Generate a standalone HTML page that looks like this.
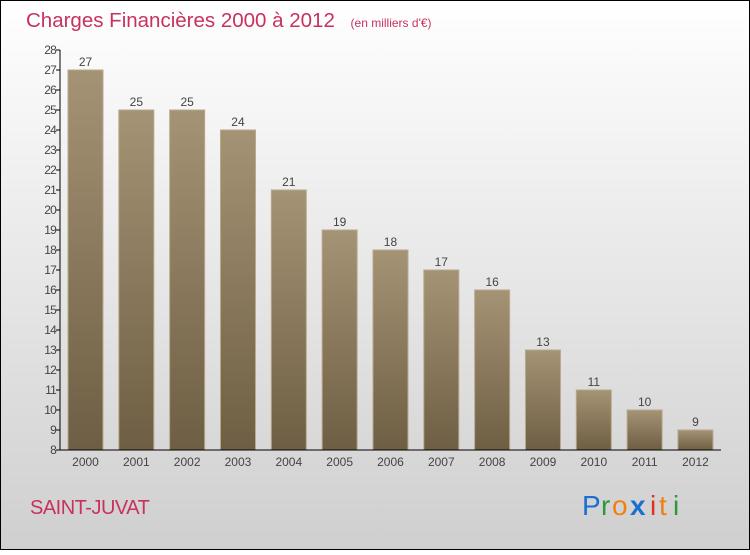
<!DOCTYPE html>
<html><head><meta charset="utf-8"><style>
html,body{margin:0;padding:0}
body{width:750px;height:550px;overflow:hidden;font-family:"Liberation Sans",sans-serif}
</style></head><body>
<svg id="chart" width="750" height="550" xmlns="http://www.w3.org/2000/svg">
<defs>
<linearGradient id="bg" x1="0" y1="0" x2="0" y2="1"><stop offset="0" stop-color="#ffffff"/><stop offset="1" stop-color="#cfcfcf"/></linearGradient>
<linearGradient id="bar" x1="0" y1="0" x2="0" y2="1"><stop offset="0" stop-color="#a59375"/><stop offset="1" stop-color="#6e5e43"/></linearGradient>
</defs>
<rect x="0.5" y="0.5" width="749" height="549" fill="url(#bg)" stroke="#000"/>
<text x="26" y="27" font-size="20.5" fill="#c8325e">Charges Financières 2000 à 2012 <tspan font-size="12" dx="10">(en milliers d'€)</tspan></text>
<g id="grid"></g>
<g id="bars"></g>
<g id="axes"></g>
<text x="30" y="514" font-size="20" fill="#c8325e" letter-spacing="-0.5">SAINT-JUVAT</text>
<g font-size="28" font-family="'Liberation Sans',sans-serif">
<text x="582" y="515" fill="#1a6fd0">P</text><text x="601" y="515" fill="#2a9a3a">r</text><text x="612" y="515" fill="#f08010">o</text><text x="630" y="515" fill="#1a6fd0" font-weight="bold">x</text><text x="650" y="515" fill="#e03020">i</text><text x="659" y="515" fill="#f08010">t</text><text x="673" y="515" fill="#2a9a3a">i</text>
</g>
</svg>
<script>
const years=['2000','2001','2002','2003','2004','2005','2006','2007','2008','2009','2010','2011','2012'];
const values=[27,25,25,24,21,19,18,17,16,13,11,10,9];
const yTicks=[8,9,10,11,12,13,14,15,16,17,18,19,20,21,22,23,24,25,26,27,28];
const NS='http://www.w3.org/2000/svg';
const y0=450,yMin=8,pxPer=20,x0=60,step=50.83,first=85.5,bw=35;
const yS=v=>y0-(v-yMin)*pxPer;
const xS=i=>first+i*step;
function mk(t,a,p){const e=document.createElementNS(NS,t);for(const k in a)e.setAttribute(k,a[k]);p.appendChild(e);return e;}
const bars=document.getElementById('bars'),axes=document.getElementById('axes');
values.forEach((v,i)=>{
 const r=mk('rect',{x:xS(i)-bw/2,y:yS(v),width:bw,height:y0-yS(v),fill:'url(#bar)',stroke:'#b8a98c','stroke-width':1},bars);
 
 
 const t=mk('text',{x:xS(i),y:yS(v)-4,'text-anchor':'middle','font-size':12,fill:'#444'},bars);t.textContent=v;
 
 
 const xl=mk('text',{x:xS(i),y:466,'text-anchor':'middle','font-size':12,fill:'#444'},axes);xl.textContent=years[i];
 
 
});
yTicks.forEach(v=>{
 mk('line',{x1:x0-4,x2:x0,y1:yS(v),y2:yS(v),stroke:'#000'},axes);
 const t=mk('text',{x:x0-4,y:yS(v)+4,'text-anchor':'end','font-size':12,fill:'#444','letter-spacing':'-0.8'},axes);t.textContent=v;
 
 
});
const ya=mk('line',{x1:x0,x2:x0,y1:yS(28),y2:y0,stroke:'#000'},axes);


const xa=mk('line',{x1:x0,x2:721,y1:y0,y2:y0,stroke:'#000'},axes);


</script>
</body></html>
